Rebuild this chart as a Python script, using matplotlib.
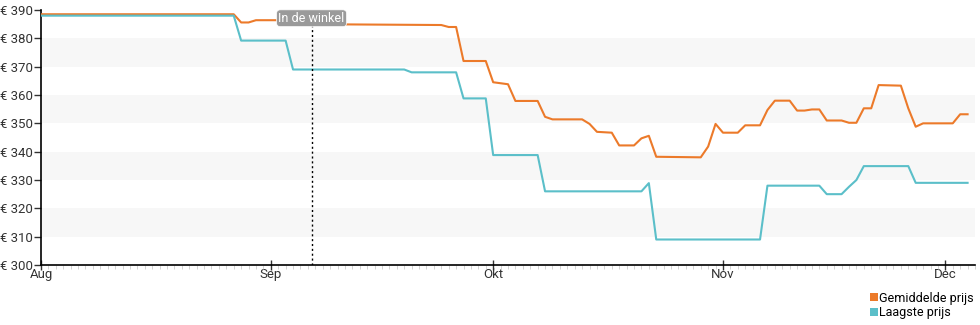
import matplotlib
matplotlib.use('Agg')
import matplotlib.pyplot as plt
import matplotlib.dates as mdates
import pandas as pd

plt.rcParams['font.family'] = ['Roboto', 'DejaVu Sans']

# Gemiddelde prijs (datum, prijs)
gem_datum = ['2023-08-01', '2023-08-27', '2023-08-28', '2023-08-29', '2023-08-30',
             '2023-09-04', '2023-09-06', '2023-09-24', '2023-09-25', '2023-09-26',
             '2023-09-27', '2023-09-30', '2023-10-01', '2023-10-03', '2023-10-04',
             '2023-10-07', '2023-10-08', '2023-10-09', '2023-10-13', '2023-10-14',
             '2023-10-15', '2023-10-17', '2023-10-18', '2023-10-20', '2023-10-21',
             '2023-10-22', '2023-10-23', '2023-10-29', '2023-10-30', '2023-10-31',
             '2023-11-01', '2023-11-03', '2023-11-04', '2023-11-06', '2023-11-07',
             '2023-11-08', '2023-11-10', '2023-11-11', '2023-11-12', '2023-11-13',
             '2023-11-14', '2023-11-15', '2023-11-17', '2023-11-18', '2023-11-19',
             '2023-11-20', '2023-11-21', '2023-11-22', '2023-11-25', '2023-11-26',
             '2023-11-27', '2023-11-28', '2023-12-02', '2023-12-03', '2023-12-04']
gem_prijs = [388.5, 388.5, 385.6, 385.6, 386.4,
             386.4, 385.0, 384.7, 384.0, 384.0,
             372.0, 372.0, 364.5, 363.8, 357.9,
             357.9, 352.3, 351.4, 351.4, 349.8,
             347.0, 346.7, 342.2, 342.2, 344.7,
             345.6, 338.2, 338.0, 341.8, 349.8,
             346.7, 346.7, 349.3, 349.3, 354.7,
             358.0, 358.0, 354.5, 354.5, 354.9,
             354.9, 351.0, 351.0, 350.2, 350.2,
             355.3, 355.3, 363.5, 363.3, 355.3,
             348.8, 350.0, 350.0, 353.2, 353.2]

# Laagste prijs (datum, prijs)
laag_datum = ['2023-08-01', '2023-08-27', '2023-08-28', '2023-09-03', '2023-09-04',
              '2023-09-19', '2023-09-20', '2023-09-26', '2023-09-27', '2023-09-30',
              '2023-10-01', '2023-10-07', '2023-10-08', '2023-10-21', '2023-10-22',
              '2023-10-23', '2023-11-06', '2023-11-07', '2023-11-14', '2023-11-15',
              '2023-11-17', '2023-11-18', '2023-11-19', '2023-11-20', '2023-11-26',
              '2023-11-27', '2023-12-04']
laag_prijs = [388.0, 388.0, 379.2, 379.2, 369.0,
              369.0, 368.0, 368.0, 358.8, 358.8,
              338.8, 338.8, 326.0, 326.0, 328.9,
              309.0, 309.0, 328.0, 328.0, 325.0,
              325.0, 327.6, 330.0, 334.9, 334.9,
              329.0, 329.0]

maanden = ['Aug', 'Sep', 'Okt', 'Nov', 'Dec']
maand_start = ['2023-08-01', '2023-09-01', '2023-10-01', '2023-11-01', '2023-12-01']
winkel_datum = '2023-09-06 12:00'

gem_x = pd.to_datetime(gem_datum)
laag_x = pd.to_datetime(laag_datum)

fig = plt.figure(figsize=(9.8, 3.25), dpi=100)
ax = fig.add_axes([41 / 980, 60 / 325, 934 / 980, 255 / 325])

# grijze banden
for lo in [310, 330, 350, 370]:
    ax.axhspan(lo, lo + 10, color='#f7f7f7', zorder=0, lw=0)

ax.plot(gem_x, gem_prijs, color='#ec7a2a', lw=1.5, zorder=3)
ax.plot(laag_x, laag_prijs, color='#5bbfc9', lw=1.5, zorder=3)

wx = pd.Timestamp(winkel_datum)
ax.axvline(wx, color='black', ls=(0, (1.5, 2)), lw=1, zorder=4)
ax.text(wx, 387.1, 'In de winkel', ha='center', va='center', color='white', fontsize=9,
        zorder=5, bbox=dict(boxstyle='round,pad=0.15,rounding_size=0.3', fc='#9a9a9a', ec='white', lw=0.5))

ax.set_xlim(pd.Timestamp('2023-08-01'), pd.Timestamp('2023-12-05'))
ax.set_ylim(300, 390)
ax.set_yticks(range(300, 391, 10))
ax.set_yticklabels(['€ %d' % v for v in range(300, 391, 10)])

ax.set_xticks(pd.to_datetime(maand_start))
ax.set_xticklabels(maanden)
ax.xaxis.set_minor_locator(mdates.DayLocator())

for s in ['top', 'right']:
    ax.spines[s].set_visible(False)
for s in ['left', 'bottom']:
    ax.spines[s].set_linewidth(1.2)

ax.tick_params(axis='y', direction='out', length=5, width=1, labelsize=9.5, pad=1, colors='#333333')
ax.tick_params(axis='x', which='major', direction='inout', length=7, width=1, labelsize=9.5, pad=-1, colors='#333333')
ax.tick_params(axis='x', which='minor', direction='out', length=3, width=0.6, color='#cccccc')

fig.legend(loc='lower right', bbox_to_anchor=(984 / 980, -4 / 325), frameon=False, fontsize=9,
           handlelength=0.6, handleheight=0.6, handletextpad=0.15, labelspacing=0.1,
           borderaxespad=0.4,
           handles=[plt.Rectangle((0, 0), 1, 1, fc='#ec7a2a'), plt.Rectangle((0, 0), 1, 1, fc='#5bbfc9')],
           labels=['Gemiddelde prijs', 'Laagste prijs'])

fig.savefig('out.png', dpi=100)
